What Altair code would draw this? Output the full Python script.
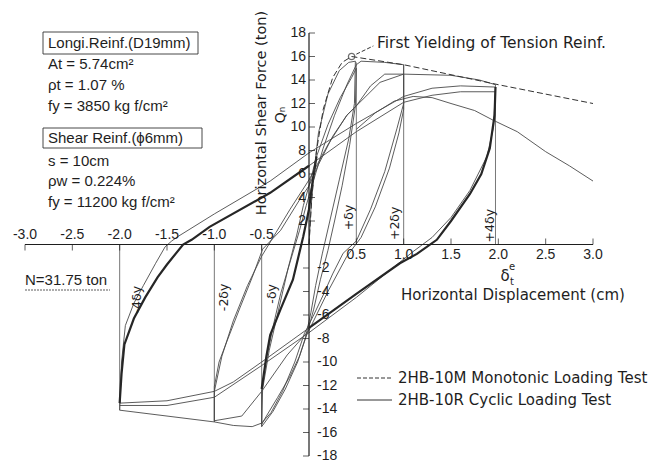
import altair as alt
import pandas as pd

# ---------------- data (displacement in cm, shear force in ton) ----------------
mono_x = [0, 0.03, 0.08, 0.15, 0.25, 0.35, 0.45, 1.0, 2.0, 3.0]
mono_y = [0, 4.0, 8.0, 11.5, 14.2, 15.5, 16.0, 15.3, 13.6, 12.0]

c1_x = [0, 0.02, 0.05, 0.1, 0.2, 0.32, 0.42, 0.49]
c1_y = [0, 3.0, 6.0, 9.5, 12.8, 14.8, 15.5, 15.6]
c2_x = [0.49, 0.48, 0.42, 0.32, 0.22, 0.14, 0.07, 0.02, -0.04, -0.12, -0.25, -0.38, -0.5]
c2_y = [15.6, 12.0, 9.0, 5.5, 2.0, -0.8, -3.5, -5.8, -8.0, -10.0, -12.3, -14.2, -15.5]
c3_x = [-0.5, -0.49, -0.42, -0.32, -0.22, -0.13, -0.06, 0.0, 0.08, 0.2, 0.33, 0.45, 0.5]
c3_y = [-15.5, -12.3, -9.0, -5.5, -2.0, 0.8, 3.3, 5.0, 7.5, 10.2, 12.5, 14.2, 15.0]
c4_x = [0.5, 0.49, 0.43, 0.35, 0.27, 0.2, 0.12, 0.05, -0.02, -0.1, -0.2, -0.33, -0.45, -0.5]
c4_y = [15.0, 11.8, 8.5, 5.0, 2.0, -0.5, -3.0, -5.5, -7.6, -9.5, -11.2, -13.0, -14.6, -15.3]
c5_x = [-0.5, -0.5, -0.45, -0.38, -0.3, -0.2, -0.1, -0.03, 0.05, 0.15, 0.27, 0.4, 0.5, 0.55, 0.8, 1.0]
c5_y = [-15.3, -12.5, -9.8, -7.0, -4.2, -1.5, 1.2, 3.3, 5.5, 8.2, 11.0, 13.6, 15.3, 15.6, 15.5, 15.3]
c6_x = [1.0, 1.0, 0.93, 0.8, 0.65, 0.5, 0.36, 0.25, 0.15, 0.05, -0.05, -0.15, -0.28, -0.4, -0.5, -0.6, -0.8, -1.0]
c6_y = [15.3, 12.0, 9.9, 6.2, 3.0, 0.3, -0.75, -2.5, -4.3, -6.0, -7.6, -10.0, -12.5, -14.3, -15.2, -15.5, -15.4, -15.1]
c7_x = [-1.0, -1.0, -0.95, -0.87, -0.73, -0.6, -0.49, -0.3, -0.1, 0.0, 0.1, 0.25, 0.4, 0.5, 0.65, 0.8, 1.0]
c7_y = [-15.1, -12.1, -10.0, -8.3, -5.4, -2.8, -0.4, 1.2, 3.8, 5.0, 6.8, 9.2, 11.0, 11.8, 13.5, 14.5, 14.5]
c8_x = [1.0, 1.0, 0.95, 0.85, 0.7, 0.55, 0.4, 0.2, 0.0, -0.23, -0.5, -0.71, -1.0]
c8_y = [14.5, 11.5, 9.5, 6.5, 3.2, 0.6, -1.0, -4.0, -7.3, -9.4, -12.5, -14.6, -15.0]
c9_x = [-1.0, -1.0, -0.92, -0.8, -0.65, -0.5, -0.35, -0.2, 0.0, 0.2, 0.4, 0.55, 0.75, 1.0, 1.5, 1.8, 1.97]
c9_y = [-15.0, -12.5, -9.5, -6.5, -3.5, -1.0, 1.0, 3.0, 5.5, 8.5, 11.0, 12.2, 13.8, 14.5, 14.4, 14.0, 13.6]
c10_x = [1.97, 1.95, 1.88, 1.7, 1.5, 1.3, 1.1, 0.9, 0.5, 0.0, -0.5, -1.0, -1.5, -2.0]
c10_y = [13.4, 10.0, 7.5, 4.6, 2.3, 0.6, -0.6, -1.9, -4.5, -7.5, -10.3, -13.0, -13.7, -13.7]
c11_x = [-1.0, -1.5, -2.0]
c11_y = [-15.1, -14.6, -14.1]
c12_x = [-2.0, -1.98, -1.94, -1.85, -1.75, -1.62, -1.52, -1.45, -1.38, -1.0, -0.41, 0.0, 0.5, 1.0, 1.3, 1.6, 1.97]
c12_y = [-14.1, -10.0, -6.9, -5.0, -3.5, -1.6, -0.2, 0.3, 0.7, 2.6, 5.4, 7.8, 10.3, 12.6, 13.3, 13.5, 13.4]
c13_x = [0.0, -0.5, -0.8, -1.0, -1.5, -2.0]
c13_y = [-7.1, -10.0, -11.7, -12.5, -13.3, -13.5]
c14_x = [0.0, 0.5, 1.0, 1.3, 1.6, 1.97]
c14_y = [6.7, 9.6, 12.1, 12.7, 13.0, 13.0]
c15_x = [0.5, 0.7, 0.9, 1.1, 1.3, 1.5, 1.75, 1.94, 2.2, 2.5, 2.75, 3.0]
c15_y = [9.8, 11.2, 12.2, 12.6, 12.5, 12.0, 11.4, 10.6, 9.6, 7.9, 6.7, 5.4]

k1_x = [-2.0, -1.98, -1.95, -1.85, -1.73, -1.6, -1.5, -1.33, -1.24, -1.05, -0.41, 0.0]
k1_y = [-13.5, -11.0, -8.5, -6.3, -4.5, -2.8, -1.7, 0.0, 0.4, 1.5, 4.4, 6.7]
k2_x = [1.97, 1.96, 1.91, 1.82, 1.7, 1.5, 1.35, 1.14, 0.96, 0.5, 0.0]
k2_y = [13.4, 11.0, 8.2, 6.0, 4.3, 2.0, 0.4, -0.8, -1.6, -4.2, -7.1]
k3_x = [-0.5, -0.45, -0.41, -0.3, -0.17, -0.06, 0.0, 0.04, 0.08]
k3_y = [-12.3, -9.5, -7.7, -5.5, -3.0, 0.7, 3.0, 5.5, 7.5]

ref_x = [0.5, 1.0, 1.97, -0.5, -1.0, -2.0]
ref_top = [15.5, 15.3, 13.6, -15.5, -15.1, -14.1]

dy_labels = ["+\u03b4y", "+2\u03b4y", "+4\u03b4y", "-4\u03b4y", "-2\u03b4y", "-\u03b4y"]
dy_x = [0.42, 0.91, 1.91, -1.82, -0.9, -0.39]
dy_y = [2.3, 1.8, 1.6, -4.7, -4.5, -4.2]

yield_x = [0.45]
yield_y = [16.0]
lead_x = [0.5, 0.68]
lead_y = [16.2, 16.9]

xt_neg = [-3.0, -2.5, -2.0, -1.5, -1.0, -0.5]
xt_neg_lab = ["-3.0", "-2.5", "-2.0", "-1.5", "-1.0", "-0.5"]
xt_pos = [0.5, 1.0, 1.5, 2.0, 2.5, 3.0]
xt_pos_lab = ["0.5", "1.0", "1.5", "2.0", "2.5", "3.0"]
yt_pos = [2, 4, 6, 8, 10, 12, 14, 16, 18]
yt_neg = [-2, -4, -6, -8, -10, -12, -14, -16, -18]

# ---------------- build tables ----------------
def curves_df(curves):
    rows = []
    for name, (xs, ys) in curves.items():
        for i, (a, b) in enumerate(zip(xs, ys)):
            rows.append({"curve": name, "i": i, "d": a, "q": b})
    return pd.DataFrame(rows)

thin_df = curves_df({
    "c1": (c1_x, c1_y), "c2": (c2_x, c2_y), "c3": (c3_x, c3_y), "c4": (c4_x, c4_y),
    "c5": (c5_x, c5_y), "c6": (c6_x, c6_y), "c7": (c7_x, c7_y), "c8": (c8_x, c8_y),
    "c9": (c9_x, c9_y), "c10": (c10_x, c10_y), "c11": (c11_x, c11_y),
    "c12": (c12_x, c12_y), "c13": (c13_x, c13_y), "c14": (c14_x, c14_y),
    "c15": (c15_x, c15_y),
})
thick_df = curves_df({"k1": (k1_x, k1_y), "k2": (k2_x, k2_y), "k3": (k3_x, k3_y)})
mono_df = curves_df({"m": (mono_x, mono_y)})
lead_df = curves_df({"l": (lead_x, lead_y)})
ref_df = pd.DataFrame({"d": ref_x, "top": ref_top, "base": [0] * len(ref_x)})
dy_df = pd.DataFrame({"d": dy_x, "q": dy_y, "t": dy_labels})
yield_df = pd.DataFrame({"d": yield_x, "q": yield_y})
xneg_df = pd.DataFrame({"d": xt_neg, "t": xt_neg_lab, "q": [0] * len(xt_neg)})
xpos_df = pd.DataFrame({"d": xt_pos, "t": xt_pos_lab, "q": [0] * len(xt_pos)})
ypos_df = pd.DataFrame({"q": yt_pos, "t": [str(v) for v in yt_pos], "d": [0] * len(yt_pos)})
yneg_df = pd.DataFrame({"q": yt_neg, "t": [str(v) for v in yt_neg], "d": [0] * len(yt_neg)})
xaxis_df = pd.DataFrame({"d": [min(xt_neg)], "d2": [max(xt_pos)], "q": [0]})
yaxis_df = pd.DataFrame({"q": [min(yt_neg)], "q2": [max(yt_pos)], "d": [0]})
one = pd.DataFrame({"a": [0]})

XS = alt.Scale(domain=[-3, 3], nice=False, zero=False)
YS = alt.Scale(domain=[-18, 18], nice=False, zero=False)
X = alt.X("d:Q", scale=XS, axis=None)
Y = alt.Y("q:Q", scale=YS, axis=None)

INK = "#1e1e1e"
THIN = "#4a4a4a"
FT = "DejaVu Sans"
FL = "Liberation Sans"

thin = alt.Chart(thin_df).mark_line(strokeWidth=0.9, color=THIN).encode(
    x=X, y=Y, detail="curve:N", order="i:Q")
thick = alt.Chart(thick_df).mark_line(strokeWidth=2.2, color="#262626").encode(
    x=X, y=Y, detail="curve:N", order="i:Q")
mono = alt.Chart(mono_df).mark_line(strokeWidth=1.0, color="#333", strokeDash=[6, 3]).encode(
    x=X, y=Y, order="i:Q")
lead = alt.Chart(lead_df).mark_line(strokeWidth=1.0, color="#333", strokeDash=[4, 2]).encode(
    x=X, y=Y, order="i:Q")
refs = alt.Chart(ref_df).mark_rule(strokeWidth=0.8, color="#555").encode(
    x=X, y=alt.Y("base:Q", scale=YS, axis=None), y2="top:Q")
yield_pt = alt.Chart(yield_df).mark_point(shape="circle", size=40, filled=False,
                                          strokeWidth=1.3, color="#333").encode(x=X, y=Y)
dy_txt = alt.Chart(dy_df).mark_text(angle=270, font=FT, fontSize=12.5, color=INK,
                                    align="center", baseline="middle").encode(x=X, y=Y, text="t:N")

xaxis = alt.Chart(xaxis_df).mark_rule(strokeWidth=1.2, color=INK).encode(
    x=X, x2="d2:Q", y=Y)
yaxis = alt.Chart(yaxis_df).mark_rule(strokeWidth=1.2, color=INK).encode(
    y=Y, y2="q2:Q", x=X)
xneg_tk = alt.Chart(xneg_df).mark_tick(orient="vertical", size=6, thickness=1, yOffset=3, color=INK).encode(x=X, y=Y)
xpos_tk = alt.Chart(xpos_df).mark_tick(orient="vertical", size=6, thickness=1, yOffset=-3, color=INK).encode(x=X, y=Y)
ypos_tk = alt.Chart(ypos_df).mark_tick(orient="horizontal", size=6, thickness=1, xOffset=3, color=INK).encode(x=X, y=Y)
yneg_tk = alt.Chart(yneg_df).mark_tick(orient="horizontal", size=6, thickness=1, xOffset=-3, color=INK).encode(x=X, y=Y)
xneg_lb = alt.Chart(xneg_df).mark_text(font=FL, fontSize=14, color=INK, dy=-10,
                                       baseline="middle").encode(x=X, y=Y, text="t:N")
xpos_lb = alt.Chart(xpos_df).mark_text(font=FL, fontSize=14, color=INK, dy=10,
                                       baseline="middle").encode(x=X, y=Y, text="t:N")
ypos_lb = alt.Chart(ypos_df).mark_text(font=FL, fontSize=14, color=INK, dx=-3, align="right",
                                       baseline="middle").encode(x=X, y=Y, text="t:N")
yneg_lb = alt.Chart(yneg_df).mark_text(font=FL, fontSize=14, color=INK, dx=8, align="left",
                                       baseline="middle").encode(x=X, y=Y, text="t:N")


def label(text, px, py, font=FL, size=15, align="left", angle=0):
    kw = dict(text=text, font=font, fontSize=size, color=INK, align=align, baseline="middle")
    if angle:
        kw["angle"] = angle
    return alt.Chart(one).mark_text(**kw).encode(x=alt.value(px), y=alt.value(py))


def box(x1, x2, y1, y2):
    return alt.Chart(one).mark_rect(fillOpacity=0, stroke="#333", strokeWidth=0.9).encode(
        x=alt.value(x1), x2=alt.value(x2), y=alt.value(y1), y2=alt.value(y2))


def hline(x1, x2, yv, dash=None, width=1.0):
    kw = dict(color="#333", strokeWidth=width)
    if dash:
        kw["strokeDash"] = dash
    return alt.Chart(one).mark_rule(**kw).encode(
        x=alt.value(x1), x2=alt.value(x2), y=alt.value(yv))


annots = [
    box(18, 173, -1, 21),
    label("Longi.Reinf.(D19mm)", 23, 10),
    label("At = 5.74cm\u00b2", 23, 31),
    label("\u03c1t = 1.07 %", 23, 52),
    label("fy = 3850 kg f/cm\u00b2", 23, 73),
    box(18, 177, 95, 115),
    label("Shear Reinf.(\u03d56mm)", 23, 105),
    label("s = 10cm", 23, 128),
    label("\u03c1w = 0.224%", 23, 148),
    label("fy = 11200 kg f/cm\u00b2", 23, 169),
    label("N=31.75 ton", 0, 247),
    hline(0, 85, 257, dash=[2, 1], width=0.8),
    label("Horizontal Shear Force (ton)", 237, 80, font=FT, size=14.5, align="center", angle=270),
    label("Q\u2099", 256, 82, font=FT, size=14, align="center", angle=270),
    label("First Yielding of Tension Reinf.", 352, 10, font=FT, size=15.5),
    label("\u03b4", 480, 243, font=FT, size=15, align="center"),
    label("e", 487, 234, font=FT, size=10, align="center"),
    label("t", 487, 249, font=FT, size=10, align="center"),
    label("Horizontal Displacement (cm)", 488, 262, font=FT, size=15, align="center"),
    hline(332, 367, 345, dash=[4, 2]),
    label("2HB-10M  Monotonic Loading Test", 373, 345, font=FT, size=15),
    hline(332, 367, 367),
    label("2HB-10R  Cyclic Loading Test", 373, 367, font=FT, size=15),
]

chart = alt.layer(
    refs, thin, thick, mono, lead, yield_pt, dy_txt,
    xaxis, yaxis, xneg_tk, xpos_tk, ypos_tk, yneg_tk,
    xneg_lb, xpos_lb, ypos_lb, yneg_lb,
    *annots
).properties(
    width=568, height=423,
    padding={"left": 17, "top": 25, "right": 64, "bottom": 6},
    autosize=alt.AutoSizeParams(type="none"),
    background="white",
).configure_view(strokeWidth=0)

chart.save("out.html", embed_options={"renderer": "svg", "actions": False})
